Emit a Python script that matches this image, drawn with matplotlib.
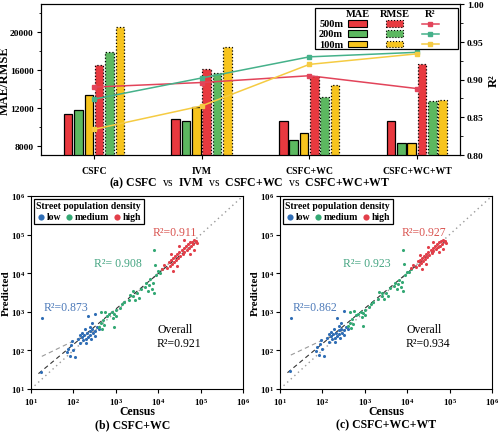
import numpy as np
import matplotlib
matplotlib.use("Agg")
import matplotlib.pyplot as plt
from matplotlib.patches import Rectangle
from matplotlib.lines import Line2D
from matplotlib.ticker import FixedLocator, FuncFormatter, NullLocator, MultipleLocator

plt.rcParams['font.family'] = ['Liberation Serif', 'DejaVu Serif']
plt.rcParams['mathtext.fontset'] = 'custom'
plt.rcParams['mathtext.rm'] = 'Liberation Serif'
plt.rcParams['mathtext.bf'] = 'Liberation Serif:bold'
plt.rcParams['mathtext.it'] = 'Liberation Serif:italic'

# ---------------- data: panel (a) ----------------
methods = ["CSFC", "IVM", "CSFC+WC", "CSFC+WC+WT"]
resolutions = ["500m", "200m", "100m"]
mae_500 = [11300, 10780, 10570, 10570]
mae_200 = [11810, 10610, 8630, 8320]
mae_100 = [13320, 12100, 9380, 8320]
rmse_500 = [16540, 16120, 15370, 16600]
rmse_200 = [17910, 15690, 13190, 12690]
rmse_100 = [20520, 18440, 14450, 12870]
r2_500 = [0.890, 0.896, 0.905, 0.888]
r2_200 = [0.874, 0.902, 0.930, 0.936]
r2_100 = [0.834, 0.865, 0.920, 0.934]

# ---------------- data: panels (b) and (c) ----------------
census_low = [18, 17, 70, 75, 83, 90, 100, 112, 95, 126, 140, 160, 165, 180, 200, 210, 225,
              240, 250, 263, 280, 295, 316, 330, 355, 200, 250, 280, 225, 316, 190, 160, 140, 400]
pred_low_b = [680, 27, 90, 110, 70, 140, 100, 66, 180, 200, 160, 220, 190, 250, 200, 280, 225,
              320, 250, 200, 350, 280, 316, 240, 400, 160, 400, 500, 800, 900, 350, 280, 250, 350]
pred_low_c = [700, 30, 95, 120, 75, 150, 110, 70, 190, 210, 170, 230, 200, 260, 210, 290, 240,
              330, 260, 210, 360, 290, 330, 250, 410, 170, 420, 520, 700, 1050, 360, 300, 260, 360]
census_med = [400, 450, 480, 500, 525, 560, 630, 710, 800, 850, 900, 1000, 1000, 900, 450,
              1260, 1400, 1600, 2000, 2200, 2500, 2600, 2800, 3160, 3550, 4000, 5000, 5250,
              5600, 6000, 6300, 7100, 7600, 7900, 8900, 10000, 11200, 8300, 7900, 12600]
pred_med_b = [400, 500, 350, 630, 450, 1000, 800, 900, 1000, 700, 900, 1100, 800, 400, 1000,
              1260, 1600, 1800, 2000, 2800, 2500, 3500, 2000, 3160, 2240, 4000, 4500, 5600,
              3550, 5000, 7100, 4000, 5600, 3160, 8900, 11200, 10000, 16000, 40000, 12600]
pred_med_c = [420, 520, 380, 640, 470, 1050, 820, 900, 1000, 750, 920, 1100, 850, 420, 1000,
              1300, 1600, 1800, 2100, 3300, 2500, 3000, 2200, 3160, 2500, 4200, 4600, 5600,
              3800, 5200, 6800, 4300, 5800, 3500, 9000, 11000, 10500, 17000, 40000, 12800]
census_high = [12600, 14000, 15800, 17800, 19000, 20000, 21000, 22400, 22400, 24000, 25000,
               26300, 28000, 30000, 31600, 33000, 35500, 38000, 40000, 41700, 44700, 47900,
               50000, 52500, 56000, 60000, 63000, 66000, 70800, 75900, 79400, 83200, 56000,
               40000, 31600, 70800, 28000, 20000]
pred_high_b = [13000, 16000, 14000, 20000, 15800, 22400, 17800, 25000, 11200, 20000, 28000,
               22400, 31600, 25000, 35500, 28000, 40000, 31600, 44700, 35500, 50000, 40000,
               56000, 44700, 63000, 50000, 66000, 56000, 70800, 63000, 67600, 60000, 31600,
               70800, 50000, 40000, 15800, 31600]
pred_high_c = [13500, 16500, 14500, 20500, 16500, 22400, 18500, 25000, 12500, 21000, 28000,
               23500, 31600, 26000, 35500, 29000, 40000, 33000, 44700, 37000, 50000, 42000,
               56000, 47000, 63000, 52000, 68000, 58000, 72000, 65000, 70000, 62000, 35000,
               65000, 48000, 42000, 17000, 30000]
r2_text_b = ["R\u00b2=0.873", "R\u00b2= 0.908", "R\u00b2=0.911", "Overall\nR\u00b2=0.921"]
r2_text_c = ["R\u00b2=0.862", "R\u00b2= 0.923", "R\u00b2=0.927", "Overall\nR\u00b2=0.934"]

RED = "#e8393f"
GREEN = "#5cb860"
YELLOW = "#f7c41d"
LRED = "#e2445a"
LGREEN = "#45b18a"
LYELLOW = "#f5cb42"
C_LOW = "#2f6db5"
C_MED = "#33a874"
C_HIGH = "#e23f4a"

W, H = 500, 439
fig = plt.figure(figsize=(W / 100, H / 100), dpi=100)

# ---------------- panel (a) ----------------
ax = fig.add_axes([40.7 / W, 1 - 156 / H, (460 - 40.7) / W, (156 - 5) / H])
x = np.arange(len(methods))
step = 0.096
bw = 0.08
series = [(mae_500, RED, '-'), (mae_200, GREEN, '-'), (mae_100, YELLOW, '-'),
          (rmse_500, RED, ':'), (rmse_200, GREEN, ':'), (rmse_100, YELLOW, ':')]
for i, (vals, col, ls) in enumerate(series):
    ax.bar(x + (i - 2.5) * step, vals, width=bw, color=col, edgecolor='black',
           linewidth=0.9, linestyle=ls, zorder=2)
ax.set_ylim(7000, 23000)
ax.set_xlim(-0.495, 3.40)
ax.yaxis.set_major_locator(FixedLocator([8000, 12000, 16000, 20000]))
ax.yaxis.set_minor_locator(MultipleLocator(2000))
ax.set_xticks(x)
ax.set_xticklabels(methods, fontweight='bold', fontsize=7)
for lab in ax.get_yticklabels():
    lab.set_fontweight('bold')
    lab.set_fontsize(6.8)
ax.tick_params(axis='both', direction='out', length=3, width=0.8, pad=2)
ax.tick_params(axis='x', pad=5)
ax.tick_params(axis='y', which='minor', length=1.8, width=0.6)
ax.set_ylabel("MAE/RMSE", fontweight='bold', fontsize=9)
ax.yaxis.set_label_coords(-0.072, 0.5)

ax2 = ax.twinx()
for vals, col in [(r2_500, LRED), (r2_200, LGREEN), (r2_100, LYELLOW)]:
    ax2.plot(x, vals, color=col, marker='s', markersize=3.5, linewidth=1.1, zorder=3)
ax2.set_ylim(0.80, 1.00)
ax2.yaxis.set_major_locator(FixedLocator([0.80, 0.85, 0.90, 0.95, 1.00]))
ax2.yaxis.set_major_formatter(FuncFormatter(lambda v, p: f"{v:.2f}"))
ax2.yaxis.set_minor_locator(MultipleLocator(0.025))
for lab in ax2.get_yticklabels():
    lab.set_fontweight('bold')
    lab.set_fontsize(6.8)
ax2.tick_params(axis='y', direction='out', length=3, width=0.8, pad=2)
ax2.tick_params(axis='y', which='minor', length=1.8, width=0.6)
ax2.set_ylabel("R\u00b2", fontweight='bold', fontsize=9)
ax2.yaxis.set_label_coords(1.066, 0.5)

# custom legend table
T = ax2.transAxes
ax2.add_patch(Rectangle((0.655, 0.702), 0.341, 0.272, transform=T, facecolor='white',
                        edgecolor='black', linewidth=0.9, zorder=5))
hdr_y = 0.934
rows_y = [0.868, 0.803, 0.735]
col_mae, col_rmse, col_r2 = 0.756, 0.844, 0.929
for cx, txt in [(col_mae, "MAE"), (col_rmse, "RMSE"), (col_r2, "R\u00b2")]:
    ax2.text(cx, hdr_y, txt, transform=T, ha='center', va='center', fontsize=7.5,
             fontweight='bold', zorder=6)
row_cols = [(RED, LRED), (GREEN, LGREEN), (YELLOW, LYELLOW)]
for ry, res, (bc, lc) in zip(rows_y, resolutions, row_cols):
    ax2.text(0.664, ry, res, transform=T, ha='left', va='center', fontsize=7.5,
             fontweight='bold', zorder=6)
    ax2.add_patch(Rectangle((col_mae - 0.023, ry - 0.023), 0.046, 0.046, transform=T,
                            facecolor=bc, edgecolor='black', linewidth=0.8, zorder=6))
    ax2.add_patch(Rectangle((col_rmse - 0.02, ry - 0.023), 0.04, 0.046, transform=T,
                            facecolor=bc, edgecolor='black', linewidth=0.8, linestyle=':',
                            zorder=6))
    ax2.add_line(Line2D([col_r2 - 0.02, col_r2 + 0.02], [ry, ry], transform=T, color=lc,
                        linewidth=1.1, zorder=6))
    ax2.add_line(Line2D([col_r2], [ry], transform=T, color=lc, marker='s', markersize=3.5,
                        linestyle='none', zorder=7))

fig.text(0.5, 1 - 183 / H,
         r"$\mathbf{(a)\ CSFC}$  vs  $\mathbf{IVM}$  vs  $\mathbf{CSFC{+}WC}$  vs  $\mathbf{CSFC{+}WC{+}WT}$",
         ha='center', va='center', fontsize=8.5)

# ---------------- panels (b) and (c) ----------------
def sci(v, p):
    return r"$\mathbf{10^{%d}}$" % int(round(np.log10(v)))


def scatter_panel(left_px, pred_low, pred_med, pred_high, texts, caption, cap_x):
    a = fig.add_axes([left_px / W, 1 - 390 / H, 212 / W, 193 / H])
    a.set_xscale('log')
    a.set_yscale('log')
    a.set_xlim(10, 1e6)
    a.set_ylim(10, 1e6)
    a.plot([10, 1e6], [10, 1e6], linestyle=(0, (1, 2.5)), color='#9a9a9a', linewidth=1.0, zorder=1)
    cx_all = np.log10(np.array(census_low + census_med + census_high, dtype=float))
    py_all = np.log10(np.array(list(pred_low) + list(pred_med) + list(pred_high), dtype=float))
    k, b = np.polyfit(cx_all, py_all, 1)
    xs = np.array([np.log10(15), cx_all.max()])
    a.plot(10 ** xs, 10 ** (k * xs + b), linestyle=(0, (4, 3)), color='#333333',
           linewidth=0.8, zorder=2)
    cl = np.log10(np.array(census_low, dtype=float))
    pl = np.log10(np.array(pred_low, dtype=float))
    k2, b2 = np.polyfit(cl, pl, 1)
    xs2 = np.array([np.log10(18), np.log10(420)])
    a.plot(10 ** xs2, 10 ** (k2 * xs2 + b2), linestyle=(0, (4, 3)), color='#9a9a9a',
           linewidth=0.8, zorder=2)
    a.scatter(census_low, pred_low, s=5, color=C_LOW, label='low', zorder=3, linewidths=0)
    a.scatter(census_med, pred_med, s=5, color=C_MED, label='medium', zorder=3, linewidths=0)
    a.scatter(census_high, pred_high, s=5, color=C_HIGH, label='high', zorder=3, linewidths=0)

    a.text(20, 1350, texts[0], color='#4a78b8', fontsize=8.5, ha='left', va='center')
    a.text(300, 18000, texts[1], color='#45a582', fontsize=8.5, ha='left', va='center')
    a.text(7500, 120000, texts[2], color='#d9534f', fontsize=8.5, ha='left', va='center')
    a.text(9400, 235, texts[3], color='black', fontsize=8.5, ha='left', va='center',
           linespacing=1.25)

    ticks = [10, 100, 1e3, 1e4, 1e5, 1e6]
    a.xaxis.set_major_locator(FixedLocator(ticks))
    a.yaxis.set_major_locator(FixedLocator(ticks))
    a.xaxis.set_minor_locator(NullLocator())
    a.yaxis.set_minor_locator(NullLocator())
    a.xaxis.set_major_formatter(FuncFormatter(sci))
    a.yaxis.set_major_formatter(FuncFormatter(sci))
    a.tick_params(axis='both', direction='out', length=3, width=0.8, labelsize=6.5, pad=2)
    a.tick_params(axis='y', pad=1.2)
    a.set_xlabel("Census", fontweight='bold', fontsize=8.5)
    a.set_ylabel("Predicted", fontweight='bold', fontsize=8)
    a.xaxis.set_label_coords(0.5, -0.085)
    a.yaxis.set_label_coords(-0.093, 0.5)
    leg = a.legend(title="Street population density", loc='upper left',
                   bbox_to_anchor=(0.008, 0.99), ncol=3, fontsize=7, markerscale=2.0,
                   handletextpad=0.1, columnspacing=0.3, borderpad=0.25,
                   handlelength=1.0, labelspacing=0.2, borderaxespad=0.1,
                   fancybox=False, edgecolor='black', framealpha=1,
                   title_fontproperties={'weight': 'bold', 'size': 7})
    leg.get_frame().set_linewidth(0.9)
    leg._legend_box.align = 'left'
    for t in leg.get_texts():
        t.set_fontweight('bold')
    fig.text(cap_x / W, 1 - 425 / H, caption, ha='center', va='center', fontsize=8.5,
             fontweight='bold')
    return a


scatter_panel(31, pred_low_b, pred_med_b, pred_high_b, r2_text_b, "(b) CSFC+WC", 133)
scatter_panel(280, pred_low_c, pred_med_c, pred_high_c, r2_text_c, "(c) CSFC+WC+WT", 386)

fig.savefig("out.png", dpi=100)
